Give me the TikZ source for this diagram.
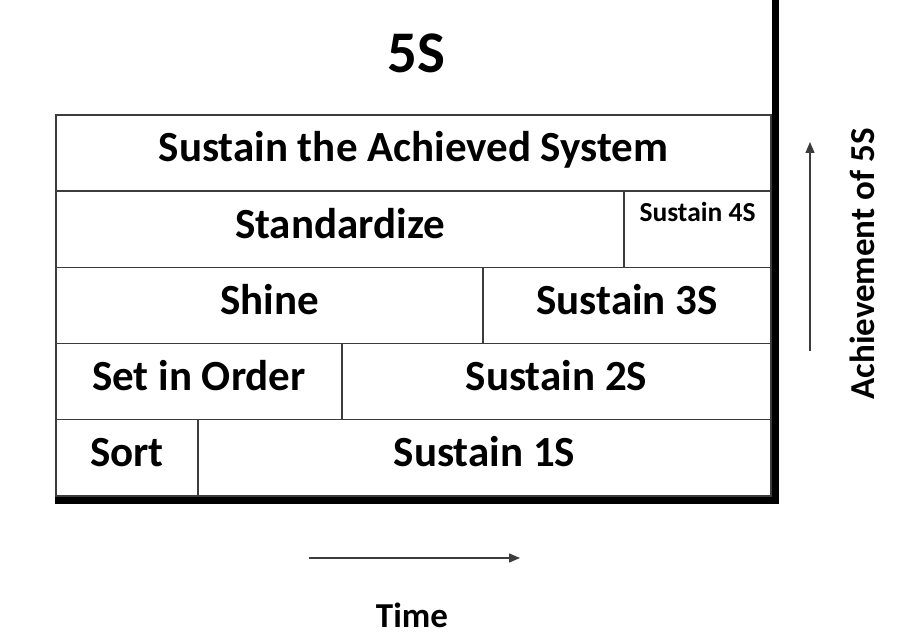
\documentclass[tikz,border=0pt]{standalone}
\usepackage{fontspec}
\newfontfamily\calib{Carlito}
\usetikzlibrary{arrows.meta}
\definecolor{linegray}{HTML}{3C3C3C}
\tikzset{
  cell/.style={draw=linegray, line width=1.4pt, inner sep=0pt, minimum height=76.2pt,
    text height=27pt, text depth=9.2pt, font=\calib\bfseries\fontsize{43}{50}\selectfont},
  arr/.style={draw=linegray, line width=1.3pt, -{Triangle[length=11pt,width=9pt]}}
}
\begin{document}
\begin{tikzpicture}[x=1pt,y=-1pt]
  \useasboundingbox (0,0) rectangle (906,636);

  % Title
  \node[anchor=base, font=\calib\bfseries\fontsize{59}{64}\selectfont] (title) at (416,73) {5S};

  % The five rows
  \node[cell, minimum width=715pt] (sys) at (413.5,153.1) {Sustain the Achieved System};
  \node[cell, minimum width=568pt] (std) at (340,229.3) {Standardize};
  \node[cell, minimum width=147pt, text height=18pt, text depth=33.6pt,
        font=\calib\bfseries\fontsize{27.5}{31}\selectfont] (sus4) at (697.5,229.3) {Sustain 4S};
  \node[cell, minimum width=427pt] (shine) at (269.5,305.5) {Shine};
  \node[cell, minimum width=288pt] (sus3) at (627,305.5) {Sustain 3S};
  \node[cell, minimum width=286pt] (order) at (199,381.7) {Set in Order};
  \node[cell, minimum width=429pt] (sus2) at (556.5,381.7) {Sustain 2S};
  \node[cell, minimum width=142pt] (sort) at (127,457.9) {Sort};
  \node[cell, minimum width=573pt] (sus1) at (484.5,457.9) {Sustain 1S};

  % Thick frame on bottom and right
  \draw[line width=7.5pt, line join=miter] (55,500.5) -- (775.5,500.5) -- (775.5,0);

  % Axes
  \coordinate (up0) at (810,351);
  \coordinate (up1) at (810,142);
  \draw[arr] (up0) -- (up1);
  \node[anchor=base, rotate=90, font=\calib\bfseries\fontsize{35}{40}\selectfont] (ach) at (874,264) {Achievement of 5S};

  \coordinate (t0) at (309,558);
  \coordinate (t1) at (520,558);
  \draw[arr] (t0) -- (t1);
  \node[anchor=base, font=\calib\bfseries\fontsize{35}{40}\selectfont] (time) at (412,627) {Time};
\end{tikzpicture}
\end{document}
